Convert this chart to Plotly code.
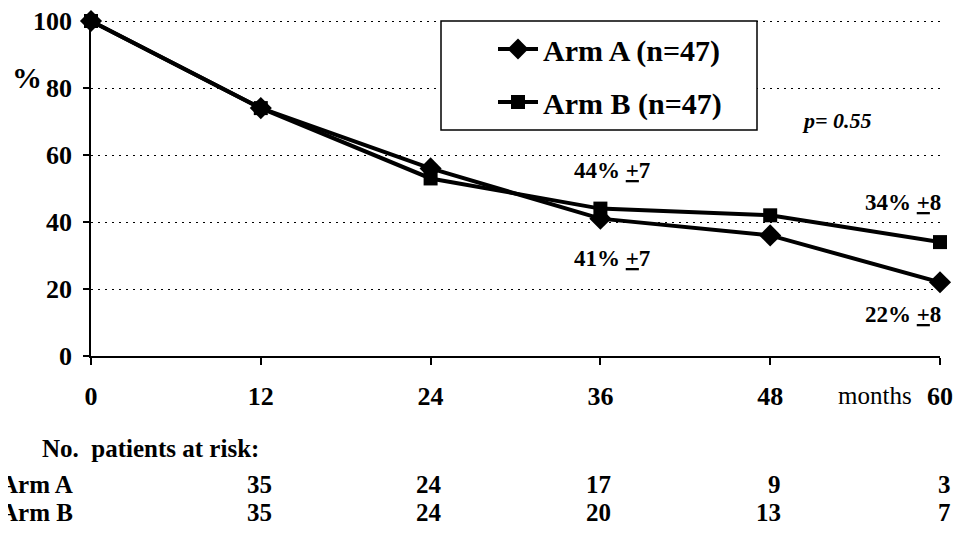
import plotly.graph_objects as go

# ---------------- data ----------------
months = [0, 12, 24, 36, 48, 60]
arm_a = [100, 74, 56, 41, 36, 22]
arm_b = [100, 74, 53, 44, 42, 34]
series_names = ["Arm A (n=47)", "Arm B (n=47)"]
y_ticks = [0, 20, 40, 60, 80, 100]
x_tick_labels = ["0", "12", "24", "36", "48", "60"]
risk_months = [12, 24, 36, 48, 60]
risk_a = [35, 24, 17, 9, 3]
risk_b = [35, 24, 20, 13, 7]
risk_row_labels = ["Arm A", "Arm B"]
estimate_labels = ["44% <u>+</u>7", "41% <u>+</u>7", "34% <u>+</u>8", "22% <u>+</u>8"]
p_value_label = "p= 0.55"

FONT = "Liberation Serif, Times New Roman, Times, serif"
OFF = 8  # page body margin offset
HEAD = 3  # px of headroom above 100 so the 100 gridline is drawn
W, H = 967 - OFF, 533 - OFF
L, R, T, B = 91 - OFF, 27, 21 - HEAD - OFF, 177
PW, PH = W - L - R, H - T - B
Y_TOP = 100 * PH / (PH - HEAD)


def px(xpix):
    # screenshot x pixel -> paper coordinate
    return (xpix - OFF - L) / PW


def py(ypix):
    # screenshot y pixel -> paper coordinate
    return (H - B - (ypix - OFF)) / PH


fig = go.Figure()
fig.add_trace(go.Scatter(
    x=months, y=arm_a, name=series_names[0], mode="lines+markers",
    line=dict(color="black", width=4),
    marker=dict(symbol="diamond", size=17, color="black"),
    cliponaxis=False, legendgroup="a"))
fig.add_trace(go.Scatter(
    x=months, y=arm_b, name=series_names[1], mode="lines+markers",
    line=dict(color="black", width=4),
    marker=dict(symbol="square", size=14, color="black"),
    cliponaxis=False, legendgroup="b"))

annotations = []
est_pos = [(612, 170), (612, 258), (903, 202), (903, 314)]
for txt, (xx, yy) in zip(estimate_labels, est_pos):
    annotations.append(dict(text="<b>" + txt + "</b>", x=px(xx), y=py(yy), xref="paper", yref="paper",
                            showarrow=False, xanchor="center", yanchor="middle",
                            font=dict(family=FONT, size=23, color="black")))
annotations.append(dict(text="<b><i>" + p_value_label + "</i></b>", x=px(837), y=py(120), xref="paper",
                        yref="paper", showarrow=False, xanchor="center", yanchor="middle",
                        font=dict(family=FONT, size=22, color="black")))
annotations.append(dict(text="<b>%</b>", x=px(27), y=py(77), xref="paper", yref="paper", showarrow=False,
                        xanchor="center", yanchor="middle", font=dict(family=FONT, size=30, color="black")))
annotations.append(dict(text="months", x=60, y=py(395), xref="x", yref="paper", showarrow=False,
                        xanchor="right", yanchor="middle", xshift=-26,
                        font=dict(family=FONT, size=25, color="black")))
annotations.append(dict(text="<b>No.\u00a0 patients at risk:</b>", x=px(40), y=py(448), xref="paper",
                        yref="paper", showarrow=False, xanchor="left", yanchor="middle",
                        font=dict(family=FONT, size=25, color="black")))
for lbl, vals, ypix in zip(risk_row_labels, [risk_a, risk_b], [484, 512]):
    annotations.append(dict(text="<b>" + lbl + "</b>", x=px(-2), y=py(ypix), xref="paper", yref="paper",
                            showarrow=False, xanchor="left", yanchor="middle",
                            font=dict(family=FONT, size=25, color="black")))
    for m, v in zip(risk_months, vals):
        annotations.append(dict(text="<b>%d</b>" % v, x=m, y=py(ypix), xref="x", yref="paper",
                                showarrow=False, xanchor="right", yanchor="middle", xshift=13,
                                font=dict(family=FONT, size=25, color="black")))

shapes = [dict(type="rect", xref="paper", yref="paper", x0=px(441), x1=px(757), y0=py(130), y1=py(21),
               line=dict(color="black", width=1.5), fillcolor="white", layer="above")]

fig.update_layout(
    width=W, height=H, margin=dict(l=L, r=R, t=T, b=B),
    paper_bgcolor="white", plot_bgcolor="white",
    showlegend=True,
    legend=dict(x=px(493), y=py(23), xanchor="left", yanchor="top",
                bgcolor="rgba(0,0,0,0)", borderwidth=0,
                font=dict(family=FONT, size=30, color="black", weight="bold"),
                tracegroupgap=11, itemwidth=40),
    annotations=annotations, shapes=shapes,
    xaxis=dict(range=[0, 60], tickvals=months, ticktext=x_tick_labels,
               showgrid=False, zeroline=False, showline=True, linecolor="black", linewidth=1.5,
               ticks="outside", ticklen=7, tickwidth=1.5, tickcolor="black",
               ticklabelstandoff=9,
               tickfont=dict(family=FONT, size=26, color="black", weight="bold")),
    yaxis=dict(range=[0, Y_TOP], tickvals=y_ticks, automargin=False,
               showgrid=True, gridcolor="black", gridwidth=1.3, griddash="2px,5px",
               zeroline=False, showline=True, linecolor="black", linewidth=1.5,
               ticks="outside", ticklen=6, tickwidth=1.5, tickcolor="black",
               ticklabelstandoff=6, ticklabeloverflow="allow",
               tickfont=dict(family=FONT, size=26, color="black", weight="bold")),
)

fig.write_html("out.html")
